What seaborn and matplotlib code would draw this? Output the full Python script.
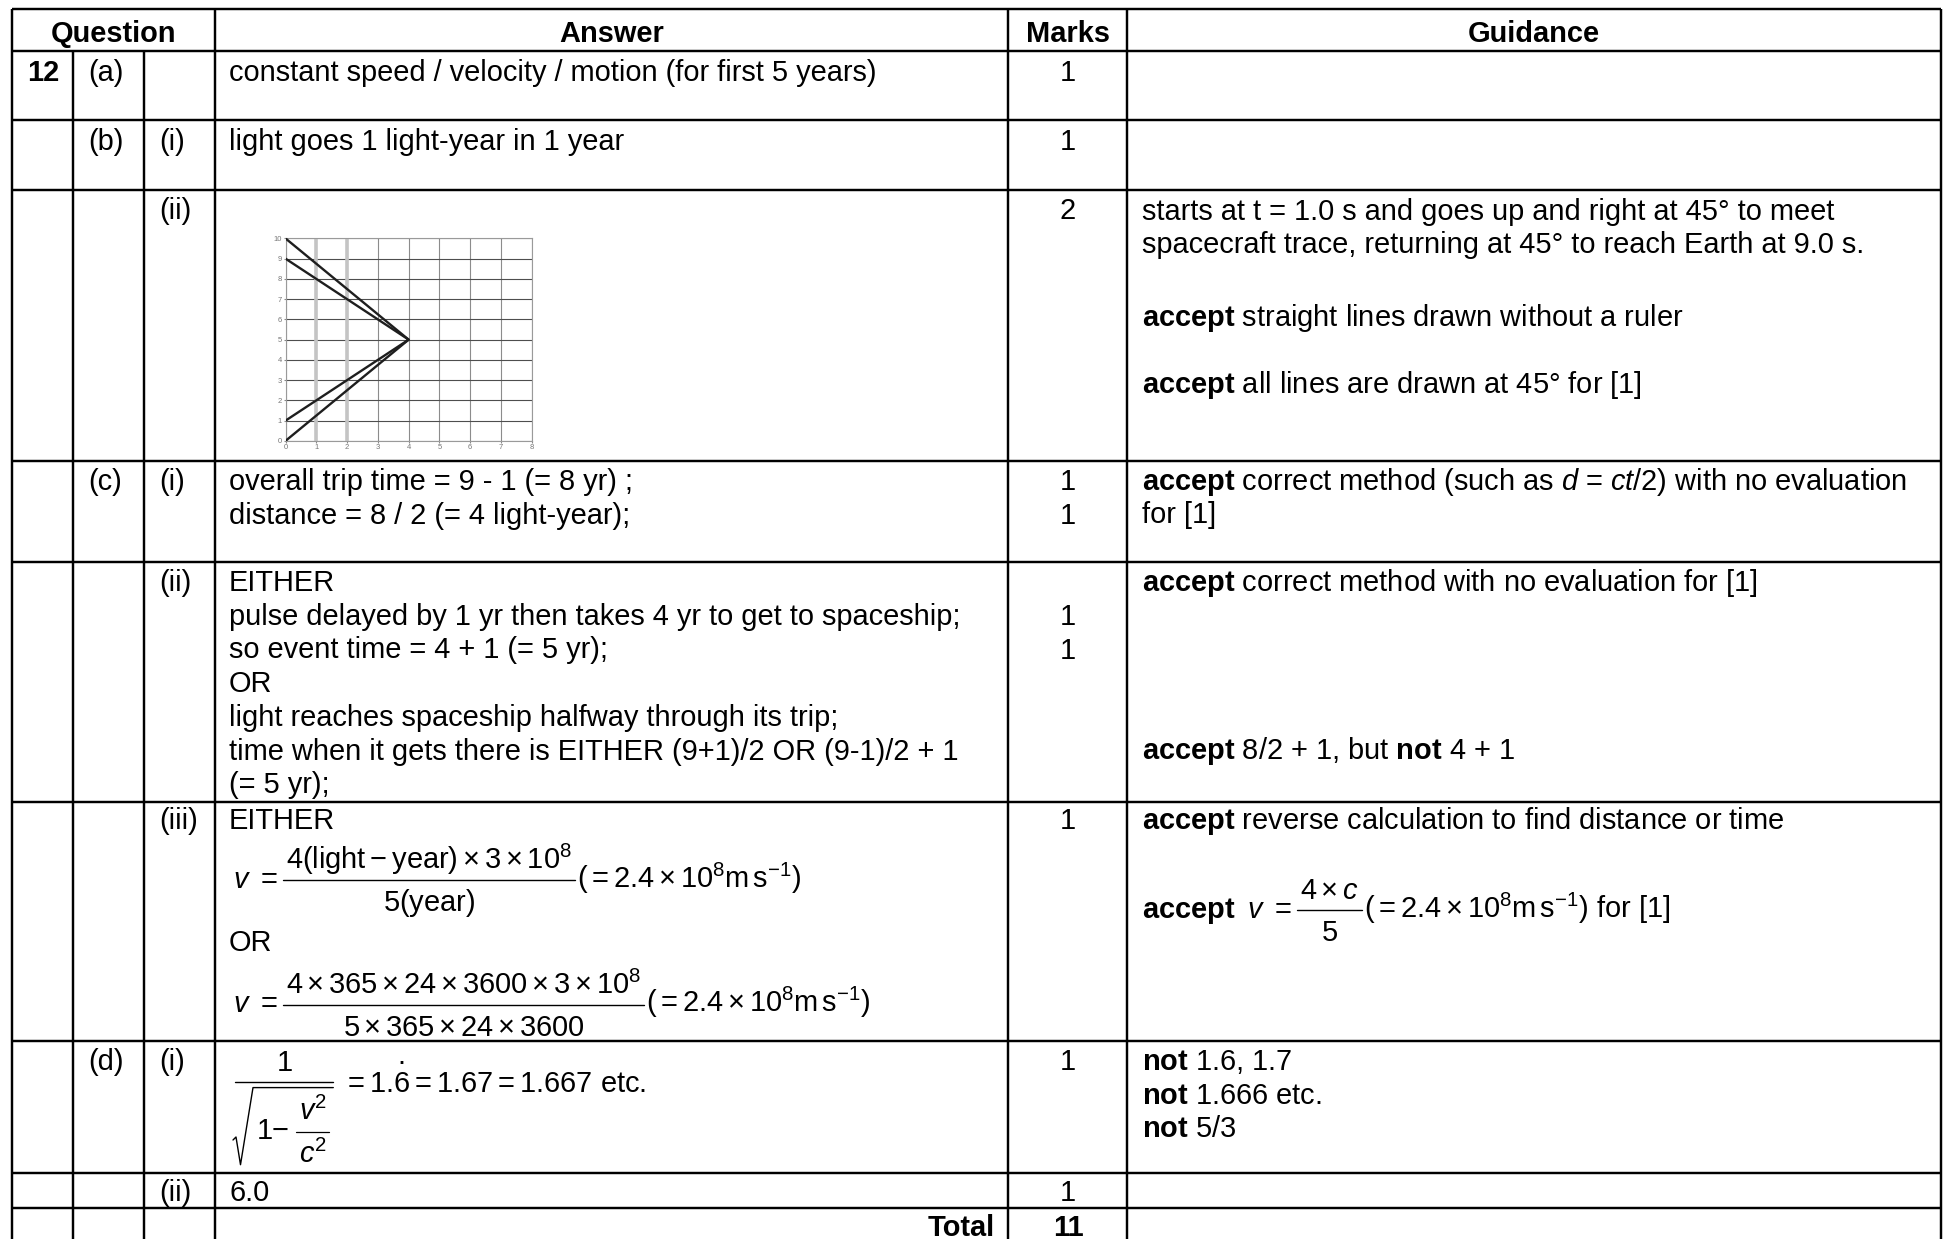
import matplotlib
matplotlib.use("Agg")
import matplotlib.pyplot as plt
import seaborn as sns
import pandas as pd

sns.set_style("white")
plt.rcParams['font.family'] = ['Liberation Sans', 'DejaVu Sans']
plt.rcParams['mathtext.fontset'] = 'custom'
plt.rcParams['mathtext.rm'] = 'Liberation Sans'
plt.rcParams['mathtext.it'] = 'Liberation Sans:italic'
plt.rcParams['mathtext.bf'] = 'Liberation Sans:bold'

# ---- space-time sketch for (b)(ii) ----
trace_names = ["spacecraft", "light pulse"]
distance_ly = [[0, 4, 0], [0, 4, 0]]
time_yr = [[0, 5, 10], [1, 5, 9]]
grid_x_ticks = [0, 1, 2, 3, 4, 5, 6, 7, 8]
grid_y_ticks = [0, 1, 2, 3, 4, 5, 6, 7, 8, 9, 10]
thick_grid_x = [1, 2]

# ---- table content ----
header = ["Question", "Answer", "Marks", "Guidance"]
part_labels = ["(a)", "(b)", "(c)", "(d)"]
sub_labels = ["(i)", "(ii)", "(i)", "(ii)", "(iii)", "(i)", "(ii)"]
marks = ["1", "1", "2", "1", "1", "1", "1", "1", "1", "1"]
total_marks = "11"

answer_a = ["constant speed / velocity / motion (for first 5 years)"]
answer_bi = ["light goes 1 light-year in 1 year"]
answer_ci = ["overall trip time = 9 - 1 (= 8 yr) ;",
             "distance = 8 / 2 (= 4 light-year);"]
answer_cii = ["EITHER",
              "pulse delayed by 1 yr then takes 4 yr to get to spaceship;",
              "so event time = 4 + 1 (= 5 yr);",
              "OR",
              "light reaches spaceship halfway through its trip;",
              "time when it gets there is EITHER (9+1)/2 OR (9-1)/2 + 1",
              "(= 5 yr);"]
answer_dii = ["6.0"]

guide_bii = ["starts at t = 1.0 s and goes up and right at 45° to meet",
             "spacecraft trace, returning at 45° to reach Earth at 9.0 s.",
             r"$\mathbf{accept}$ straight lines drawn without a ruler",
             r"$\mathbf{accept}$ all lines are drawn at 45° for [1]"]
guide_ci = [r"$\mathbf{accept}$ correct method (such as $d$ = $ct$/2) with no evaluation",
            "for [1]"]
guide_cii = [r"$\mathbf{accept}$ correct method with no evaluation for [1]",
             r"$\mathbf{accept}$ 8/2 + 1, but $\mathbf{not}$ 4 + 1"]
guide_ciii = [r"$\mathbf{accept}$ reverse calculation to find distance or time"]
guide_di = [r"$\mathbf{not}$ 1.6, 1.7", r"$\mathbf{not}$ 1.666 etc.", r"$\mathbf{not}$ 5/3"]

W, H = 1944, 1239
FS = 20.9
LS = 33.7

fig = plt.figure(figsize=(W / 100, H / 100), dpi=100, facecolor="white")
ax = fig.add_axes([0, 0, 1, 1])
ax.set_xlim(0, W)
ax.set_ylim(H, 0)
ax.axis("off")
renderer = fig.canvas.get_renderer()


def put(x, y, s, weight="normal", ha="left", size=FS):
    return ax.text(x, y, s, fontsize=size, fontweight=weight, ha=ha,
                   va="baseline", color="black")


def width(t):
    return t.get_window_extent(renderer).width


def lines(x, y0, texts, step=LS):
    for i, s in enumerate(texts):
        put(x, y0 + i * step, s)


def fraction(x, bar_y, num, den, lhs=None, tail=None):
    if lhs:
        t = put(x, bar_y + 8, lhs)
        x += width(t) + 5
    tn = put(x + 3, bar_y - 11, num)
    x_end = x + width(tn) + 6
    ax.plot([x, x_end], [bar_y, bar_y], color="black", lw=1.0)
    put((x + x_end) / 2, bar_y + 31, den, ha="center")
    if tail:
        put(x_end + 2, bar_y + 8, tail)


# ---- grid of the table ----
col_x = [12, 73, 144, 215, 1008, 1127, 1941]
row_y = [8.7, 51.4, 119.8, 189.8, 460.6, 562.3, 801.7, 1041.3, 1173.4, 1208.2]
lw_tab = 1.75
ax.hlines(row_y, col_x[0], col_x[-1], color="black", lw=lw_tab)
ax.vlines([col_x[0], col_x[3], col_x[4], col_x[5], col_x[6]], row_y[0], H,
          color="black", lw=lw_tab)
ax.vlines([col_x[1], col_x[2]], row_y[1], H, color="black", lw=lw_tab)

# header
hdr_centers = [(col_x[0] + col_x[3]) / 2, (col_x[3] + col_x[4]) / 2,
               (col_x[4] + col_x[5]) / 2, (col_x[5] + col_x[6]) / 2]
for cx, s in zip(hdr_centers, header):
    put(cx, 41.5, s, weight="bold", ha="center")

# question column
put(27, 81, "12", weight="bold")
for s, y in zip(part_labels, [81, 150, 490, 1069.8]):
    put(88, y, s)
for s, y in zip(sub_labels, [150, 219, 490, 591, 828.6, 1069.8, 1201]):
    put(159, y, s)

# marks column
mark_y = [81, 150, 219, 490, 524, 625, 658.6, 828.6, 1069.8, 1201]
for s, y in zip(marks, mark_y):
    put(1068, y, s, ha="center")
put(1068, 1236, total_marks, weight="bold", ha="center")
put(995, 1236, "Total", weight="bold", ha="right")

# answer column
AX = 229
lines(AX, 81, answer_a)
lines(AX, 150, answer_bi)
lines(AX, 490, answer_ci, step=34)
lines(AX, 591, answer_cii)
put(AX, 828.6, "EITHER")
v_eq = r"$v\ =$"
si_tail = r"$(= 2.4\times 10^{8}\mathrm{m\,s^{-1}})$"
fraction(233, 880, r"$4(\mathrm{light} - \mathrm{year})\times 3\times 10^{8}$",
         r"$5(\mathrm{year})$", lhs=v_eq, tail=si_tail)
put(AX, 951, "OR")
fraction(233, 1004.5, r"$4\times 365\times 24\times 3600\times 3\times 10^{8}$",
         r"$5\times 365\times 24\times 3600$", lhs=v_eq, tail=si_tail)

# (d)(i) gamma expression
ax.plot([234.5, 333.3], [1082.4, 1082.4], color="black", lw=1.0)
put(284.7, 1071, "1", ha="center")
ax.plot([233, 236, 240.5, 253, 333.3], [1140, 1137, 1164.7, 1087.6, 1087.6],
        color="black", lw=1.0)
put(257, 1139, "1")
put(272, 1139, "\u2212")
ax.plot([296, 329.4], [1132, 1132], color="black", lw=0.9)
put(312.7, 1120.4, r"$v^{2}$", ha="center")
put(312.7, 1162.7, r"$c^{2}$", ha="center")
gx0 = 343
put(gx0, 1091.5, r"$= 1.6 = 1.67 = 1.667$ etc.")
pre = put(gx0, 1091.5, r"$= 1.$")
six = put(0, 0, "6")
dot_x = gx0 + width(pre) + width(six) / 2
pre.remove()
six.remove()
put(dot_x, 1064, ".", ha="center")
lines(AX, 1201, answer_dii)

# guidance column
GX = 1141.6
for s, y in zip(guide_bii, [219.5, 253, 326, 393.4]):
    put(GX, y, s)
lines(GX, 490, guide_ci, step=33)
for s, y in zip(guide_cii, [591, 759.4]):
    put(GX, y, s)
lines(GX, 828.6, guide_ciii)
put(GX, 918, r"$\mathbf{accept}$")
fraction(1247, 909.6, r"$4\times c$", r"$5$", lhs=v_eq,
         tail=si_tail + " for [1]")
lines(GX, 1069.8, guide_di)

# ---- inset sketch ----
ax2 = fig.add_axes([285.5 / W, 1 - 440.9 / H, (531.8 - 285.5) / W, (440.9 - 238.4) / H])
df = pd.DataFrame({
    "trace": [n for n, xs in zip(trace_names, distance_ly) for _ in xs],
    "distance": [v for xs in distance_ly for v in xs],
    "time": [v for ts in time_yr for v in ts],
})
for xv in thick_grid_x:
    ax2.axvline(xv, color="#c4c4c4", lw=2.6, zorder=0.6)
sns.lineplot(data=df, x="distance", y="time", units="trace", estimator=None,
             sort=False, color="#1e1e1e", linewidth=1.7, ax=ax2, zorder=3)
ax2.set_xlim(0, 8)
ax2.set_ylim(0, 10)
ax2.set_xticks(grid_x_ticks)
ax2.set_yticks(grid_y_ticks)
ax2.xaxis.grid(True, color="#8c8c8c", lw=0.8)
ax2.yaxis.grid(True, color="#4e4e4e", lw=0.8)
ax2.set_axisbelow(True)
ax2.set_xlabel("")
ax2.set_ylabel("")
ax2.tick_params(labelsize=5.5, labelcolor="#777777", length=1.5, color="#888888",
                pad=1, left=True, bottom=True)
for sp in ax2.spines.values():
    sp.set_color("#9a9a9a")
    sp.set_linewidth(0.8)

fig.savefig("out.png", dpi=100, facecolor="white")
